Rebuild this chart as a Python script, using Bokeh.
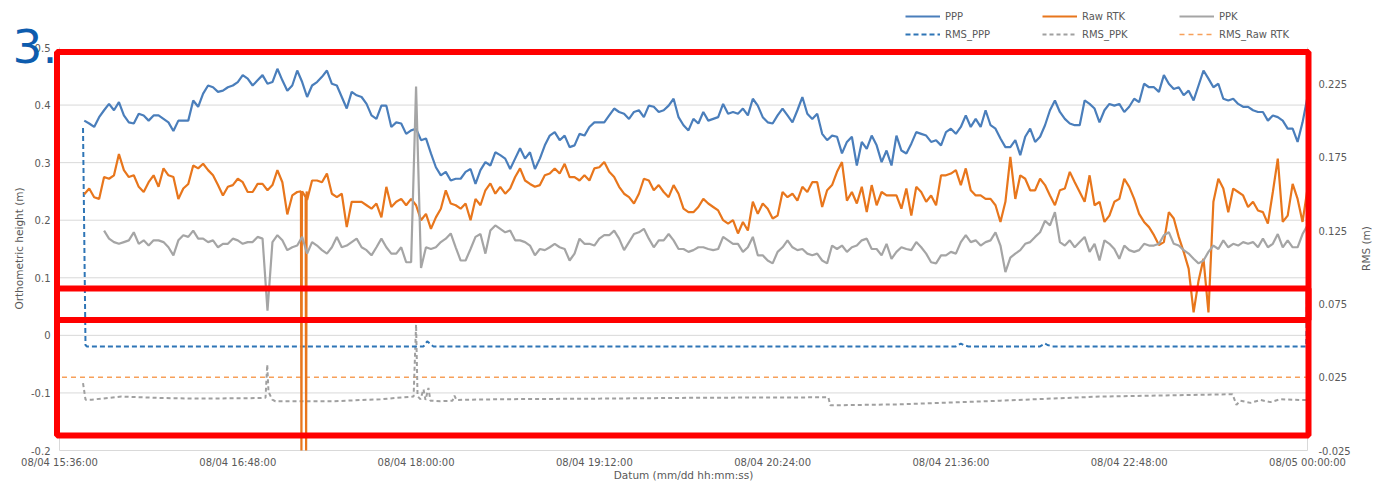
import math
import numpy as np
from bokeh.plotting import figure
from bokeh.models import Range1d, Legend, LegendItem, Label, BoxAnnotation
from bokeh.core.properties import value
from bokeh.embed import file_html
from bokeh.resources import INLINE

FONT = "DejaVu Sans"
TXT = "#595959"
GRID = "#d9d9d9"

# ---------------- axes / ticks ----------------
x_tick_minutes = [0, 72, 144, 216, 288, 360, 432, 504]   # minutes after 08/04 15:36
x_tick_labels = ["08/04 15:36:00", "08/04 16:48:00", "08/04 18:00:00", "08/04 19:12:00",
                 "08/04 20:24:00", "08/04 21:36:00", "08/04 22:48:00", "08/05 00:00:00"]
left_ticks = [-0.2, -0.1, 0.0, 0.1, 0.2, 0.3, 0.4, 0.5]
left_tick_labels = ["-0.2", "-0.1", "0", "0.1", "0.2", "0.3", "0.4", "0.5"]
right_ticks = [-0.025, 0.025, 0.075, 0.125, 0.175, 0.225]
right_tick_labels = ["-0.025", "0.025", "0.075", "0.125", "0.175", "0.225"]
X_MIN, X_MAX = 0, 504
Y_MIN, Y_MAX = -0.2, 0.5
RMS_MIN, RMS_MAX = -0.025, 0.25

# ---------------- data (orthometric height, m), sampled every 2 minutes ----------------
SAMPLE_STEP = 2
ppp_start = 10
ppp = [0.373, 0.368, 0.362, 0.379, 0.391, 0.402, 0.391, 0.405, 0.382, 0.370, 0.368, 0.385, 0.382,
       0.373, 0.382, 0.382, 0.376, 0.370, 0.355, 0.373, 0.373, 0.373, 0.408, 0.397, 0.420, 0.434,
       0.431, 0.423, 0.425, 0.431, 0.434, 0.440, 0.452, 0.446, 0.434, 0.443, 0.452, 0.437,
       0.440, 0.463, 0.443, 0.425, 0.434, 0.460, 0.440, 0.414, 0.434, 0.440, 0.449, 0.460, 0.437,
       0.434, 0.414, 0.394, 0.423, 0.417, 0.414, 0.402, 0.382, 0.376, 0.399, 0.399, 0.362, 0.370,
       0.368, 0.350, 0.356, 0.359, 0.339, 0.342, 0.316, 0.292, 0.278, 0.284, 0.269, 0.272, 0.272,
       0.284, 0.289, 0.263,
       0.287, 0.301, 0.295, 0.318, 0.313, 0.307, 0.289, 0.307, 0.325, 0.307, 0.318, 0.289, 0.307,
       0.330, 0.347, 0.353, 0.339, 0.347, 0.327, 0.330, 0.350, 0.347, 0.362, 0.370, 0.370, 0.370,
       0.382, 0.394, 0.388, 0.385, 0.376, 0.388, 0.391, 0.379, 0.399, 0.397, 0.388, 0.391, 0.399,
       0.411, 0.379,
       0.365, 0.356, 0.376, 0.368, 0.388, 0.373, 0.376, 0.379, 0.402, 0.385, 0.388, 0.385, 0.394,
       0.382, 0.411, 0.399, 0.379, 0.370, 0.368, 0.382, 0.394, 0.382, 0.370, 0.391, 0.414, 0.385,
       0.376, 0.385, 0.350, 0.339, 0.347, 0.345, 0.316, 0.336, 0.345, 0.295, 0.336, 0.324, 0.347,
       0.330, 0.301,
       0.321, 0.295, 0.347, 0.321, 0.316, 0.333, 0.353, 0.350, 0.347, 0.336, 0.339, 0.330, 0.353,
       0.359, 0.350, 0.362, 0.382, 0.362, 0.376, 0.362, 0.391, 0.365, 0.359, 0.342, 0.327, 0.327,
       0.339, 0.313, 0.345, 0.359, 0.336, 0.345, 0.365, 0.391, 0.408, 0.388, 0.376, 0.368, 0.365,
       0.365, 0.408, 0.402,
       0.394, 0.370, 0.391, 0.402, 0.399, 0.402, 0.388, 0.397, 0.411, 0.405, 0.437, 0.431, 0.431,
       0.423, 0.452, 0.437, 0.428, 0.431, 0.417, 0.425, 0.408, 0.434, 0.460, 0.446, 0.431, 0.437,
       0.411, 0.408, 0.411, 0.402, 0.397, 0.397, 0.391, 0.388, 0.388, 0.373, 0.382, 0.379, 0.373,
       0.359, 0.359, 0.336, 0.370, 0.414]

raw_rtk_start = 10
raw_rtk = [0.245, 0.255, 0.240, 0.237, 0.275, 0.272, 0.278, 0.315, 0.287, 0.275, 0.278, 0.258,
           0.249, 0.266, 0.278, 0.258, 0.290, 0.278, 0.275, 0.237, 0.255, 0.263, 0.295, 0.290,
           0.298, 0.287, 0.278, 0.261, 0.243, 0.258, 0.261, 0.272, 0.266, 0.249, 0.249, 0.263,
           0.263, 0.252,
           0.261, 0.287, 0.266, 0.210, 0.243, 0.249, 0.250, 0.235, 0.269, 0.269, 0.266, 0.281,
           0.246, 0.240, 0.246, 0.188, 0.232, 0.232, 0.232, 0.226, 0.220, 0.229, 0.205, 0.258,
           0.223, 0.232, 0.237, 0.226, 0.237, 0.226, 0.200, 0.211, 0.185, 0.205, 0.220, 0.252,
           0.229, 0.226, 0.220, 0.229, 0.200, 0.237,
           0.226, 0.252, 0.264, 0.246, 0.258, 0.246, 0.255, 0.275, 0.290, 0.269, 0.263, 0.258,
           0.261, 0.278, 0.281, 0.290, 0.281, 0.298, 0.275, 0.275, 0.269, 0.278, 0.269, 0.290,
           0.292, 0.301, 0.284, 0.275, 0.258, 0.246, 0.240, 0.229, 0.246, 0.272, 0.269, 0.252,
           0.261, 0.249, 0.240, 0.261, 0.246,
           0.220, 0.214, 0.214, 0.223, 0.237, 0.229, 0.223, 0.217, 0.200, 0.194, 0.200, 0.177,
           0.197, 0.182, 0.232, 0.211, 0.229, 0.220, 0.203, 0.208, 0.249, 0.240, 0.246, 0.234,
           0.258, 0.249, 0.266, 0.266, 0.223, 0.252, 0.261, 0.284, 0.301, 0.234, 0.249, 0.229,
           0.258, 0.214, 0.261, 0.226, 0.249,
           0.243, 0.243, 0.243, 0.220, 0.255, 0.208, 0.258, 0.249, 0.232, 0.243, 0.226, 0.278,
           0.278, 0.281, 0.287, 0.261, 0.290, 0.252, 0.243, 0.243, 0.237, 0.237, 0.226, 0.197,
           0.232, 0.310, 0.237, 0.278, 0.272, 0.252, 0.252, 0.272, 0.261, 0.243, 0.226, 0.252,
           0.255, 0.284, 0.266, 0.249, 0.232, 0.278,
           0.226, 0.232, 0.197, 0.208, 0.232, 0.237, 0.272, 0.258, 0.237, 0.211, 0.197, 0.188,
           0.174, 0.157, 0.162, 0.214, 0.203, 0.171, 0.145, 0.116, 0.040, 0.095, 0.133, 0.040,
           0.232, 0.272, 0.255, 0.214, 0.255, 0.249, 0.243, 0.223, 0.232, 0.217, 0.214, 0.194,
           0.249, 0.307, 0.197, 0.208, 0.263, 0.237, 0.197, 0.255]
# two short Raw RTK drop-outs that run off the bottom of the axis (clipped at -0.2)
raw_rtk_dropout_t = [97.5, 97.7, 97.9, 99.4, 99.6, 99.8]
raw_rtk_dropout = [0.250, -0.2, 0.245, 0.240, -0.2, 0.250]

ppk_start = 18
ppk = [0.182, 0.168, 0.162, 0.159, 0.162, 0.165, 0.179, 0.159, 0.165, 0.156, 0.165, 0.165, 0.162,
       0.153, 0.139, 0.165, 0.174, 0.171, 0.182, 0.168, 0.168, 0.162, 0.165, 0.153, 0.159, 0.159,
       0.168, 0.165, 0.159, 0.162, 0.162, 0.171, 0.168, 0.043,
       0.162, 0.174, 0.165, 0.148, 0.153, 0.156, 0.171, 0.142, 0.162, 0.156, 0.148, 0.142, 0.153,
       0.171, 0.153, 0.156, 0.162, 0.168, 0.153, 0.148, 0.139, 0.153, 0.168, 0.153, 0.142, 0.142,
       0.153, 0.127, 0.127, 0.432, 0.117, 0.153, 0.150, 0.153, 0.162, 0.168, 0.177, 0.153, 0.130,
       0.130, 0.150, 0.171,
       0.176, 0.142, 0.182, 0.191, 0.185, 0.179, 0.182, 0.165, 0.165, 0.162, 0.156, 0.139, 0.150,
       0.148, 0.153, 0.159, 0.153, 0.150, 0.130, 0.142, 0.168, 0.159, 0.159, 0.156, 0.168, 0.174,
       0.174, 0.182, 0.168, 0.148, 0.162, 0.176, 0.179, 0.185, 0.168, 0.153, 0.165, 0.165, 0.176,
       0.165, 0.150,
       0.150, 0.145, 0.148, 0.153, 0.153, 0.150, 0.148, 0.150, 0.171, 0.165, 0.159, 0.159, 0.145,
       0.153, 0.171, 0.139, 0.139, 0.130, 0.125, 0.145, 0.153, 0.165, 0.153, 0.148, 0.150, 0.142,
       0.139, 0.142, 0.130, 0.125, 0.156, 0.150, 0.156, 0.145, 0.153, 0.156, 0.165, 0.168, 0.150,
       0.150, 0.139,
       0.159, 0.133, 0.145, 0.153, 0.150, 0.148, 0.162, 0.153, 0.142, 0.127, 0.125, 0.139, 0.139,
       0.145, 0.142, 0.162, 0.174, 0.162, 0.165, 0.156, 0.162, 0.165, 0.179, 0.156, 0.110, 0.135,
       0.142, 0.148, 0.159, 0.162, 0.171, 0.179, 0.199, 0.191, 0.214, 0.162, 0.156, 0.165, 0.153,
       0.162, 0.171, 0.145,
       0.159, 0.130, 0.165, 0.159, 0.150, 0.133, 0.156, 0.148, 0.145, 0.148, 0.159, 0.156, 0.156,
       0.159, 0.174, 0.179, 0.159, 0.156, 0.148, 0.142, 0.133, 0.125, 0.130, 0.145, 0.156, 0.150,
       0.165, 0.153, 0.159, 0.156, 0.162, 0.159, 0.162, 0.153, 0.168, 0.153, 0.159, 0.176, 0.153,
       0.165, 0.153, 0.153, 0.176, 0.191]

# ---------------- RMS (m), right axis ----------------
rms_ppp_t = [9.5, 10.5, 11, 40, 100, 147, 148.5, 149.5, 151, 200, 260, 320, 362, 364, 365, 367,
             396, 398, 399, 401, 450, 503.5, 504]
rms_ppp = [0.195, 0.047, 0.046, 0.046, 0.046, 0.046, 0.0495, 0.048, 0.046, 0.046, 0.046, 0.046,
           0.046, 0.048, 0.047, 0.046, 0.046, 0.048, 0.047, 0.046, 0.046, 0.046, 0.106]

rms_ppk_t = [9.5, 10.5, 13, 25, 41, 57, 81, 83.2, 83.9, 84.4, 85.9, 87.2, 110.6, 129.6, 143, 144,
             144.6, 145.8, 147, 147.8, 149, 149.8, 153.8, 158.7, 159.5, 160.3, 178, 218.5, 258.8,
             310.5, 311.3, 339.6, 380, 420, 473.7, 475.3, 476.9, 481, 485, 489, 493, 501, 504]
rms_ppk = [0.021, 0.0097, 0.0097, 0.0118, 0.0108, 0.0104, 0.0108, 0.011, 0.0337, 0.015, 0.0097,
           0.0086, 0.0086, 0.010, 0.0118, 0.061, 0.012, 0.010, 0.0168, 0.0095, 0.0177, 0.009,
           0.0086, 0.009, 0.0125, 0.0095, 0.0100, 0.0104, 0.0110, 0.0113, 0.0058, 0.0065, 0.0090,
           0.0118, 0.0134, 0.0062, 0.009, 0.0075, 0.0095, 0.008, 0.010, 0.0095, 0.0095]

rms_rtk_t = [1, 126, 252, 378, 504]
rms_rtk = [0.025, 0.025, 0.025, 0.025, 0.025]

t_ppp = ppp_start + SAMPLE_STEP * np.arange(len(ppp))
t_ppk = ppk_start + SAMPLE_STEP * np.arange(len(ppk))
_rtk_pairs = sorted(list(zip(raw_rtk_start + SAMPLE_STEP * np.arange(len(raw_rtk)), raw_rtk))
                    + list(zip(raw_rtk_dropout_t, raw_rtk_dropout)))
t_rtk = [a for a, _ in _rtk_pairs]
v_rtk = [b for _, b in _rtk_pairs]

# ---------------- layout (pixels on the canvas) ----------------
W, H = 1380, 481
PL, PR, PT, PB = 59, 1307, 47, 450          # plot-area edges on the canvas
xs = (X_MAX - X_MIN) / (PR - PL)
ys = (Y_MAX - Y_MIN) / (PB - PT)
rs = (RMS_MAX - RMS_MIN) / (PB - PT)

def sx(cx):            # canvas x -> frame screen x
    return cx
def sy(cy):            # canvas y (from top) -> frame screen y (from bottom)
    return H - cy

p = figure(width=W, height=H,
           x_range=Range1d(X_MIN - PL * xs, X_MAX + (W - PR) * xs),
           y_range=Range1d(Y_MIN - (H - PB) * ys, Y_MAX + PT * ys),
           x_axis_location=None, y_axis_location=None,
           output_backend="svg", toolbar_location=None, title=None,
           min_border=0, min_border_left=0, min_border_right=0,
           min_border_top=0, min_border_bottom=0)
p.extra_y_ranges = {"rms": Range1d(RMS_MIN - (H - PB) * rs, RMS_MAX + PT * rs)}
p.outline_line_color = None
p.grid.visible = False
p.background_fill_color = "white"
p.border_fill_color = "white"

# gridlines and axis lines
gl = left_ticks[1:-1]
p.segment(x0=[X_MIN] * len(gl), y0=gl, x1=[X_MAX] * len(gl), y1=gl, line_color=GRID, line_width=1)
p.segment(x0=[X_MIN, X_MIN, X_MAX], y0=[Y_MIN, Y_MIN, Y_MIN], x1=[X_MAX, X_MIN, X_MAX],
          y1=[Y_MIN, Y_MAX, Y_MAX], line_color=GRID, line_width=1)

# tick labels
p.text(x=[X_MIN] * len(left_ticks), y=left_ticks, text=left_tick_labels, x_offset=-9,
       text_align="right", text_baseline="middle", text_font=value(FONT),
       text_font_size="10px", text_color=TXT)
p.text(x=[X_MAX] * len(right_ticks), y=right_ticks, text=right_tick_labels, x_offset=11,
       y_range_name="rms", text_align="left", text_baseline="middle", text_font=value(FONT),
       text_font_size="10px", text_color=TXT)
p.text(x=x_tick_minutes, y=[Y_MIN] * len(x_tick_minutes), text=x_tick_labels, y_offset=12,
       text_align="center", text_baseline="middle", text_font=value(FONT),
       text_font_size="10px", text_color=TXT)

# axis titles
p.add_layout(Label(x=sx(18), y=sy(248), text="Orthometric height (m)", angle=math.pi / 2,
                   x_units="screen", y_units="screen", text_align="center",
                   text_baseline="middle", text_font=FONT, text_font_size="10.5px",
                   text_color=TXT))
p.add_layout(Label(x=sx(1365), y=sy(248), text="RMS (m)", angle=math.pi / 2,
                   x_units="screen", y_units="screen", text_align="center",
                   text_baseline="middle", text_font=FONT, text_font_size="10.5px",
                   text_color=TXT))
p.add_layout(Label(x=sx(683), y=sy(474), text="Datum (mm/dd hh:mm:ss)",
                   x_units="screen", y_units="screen", text_align="center",
                   text_baseline="middle", text_font=FONT, text_font_size="10.5px",
                   text_color=TXT))

# RMS series (secondary axis)
r_rms_rtk = p.line(rms_rtk_t, rms_rtk, y_range_name="rms", line_color="#f7a05a",
                   line_width=1.6, line_dash="5 4")
r_rms_ppk = p.line(rms_ppk_t, rms_ppk, y_range_name="rms", line_color="#a0a0a0",
                   line_width=2, line_dash="4 3")
r_rms_ppp = p.line(rms_ppp_t, rms_ppp, y_range_name="rms", line_color="#2e75b6",
                   line_width=2, line_dash="5 3")

# height series
r_ppp = p.line(t_ppp, ppp, line_color="#4a7ebb", line_width=2.2)
r_rtk = p.line(t_rtk, v_rtk, line_color="#e8761c", line_width=2.2)
r_ppk = p.line(t_ppk, ppk, line_color="#a5a5a5", line_width=2.2)

# legends (two rows)
def make_legend(items, bottom_cy):
    return Legend(items=items, orientation="horizontal", location=(sx(905), sy(bottom_cy)),
                  border_line_color=None, background_fill_alpha=0, padding=0, margin=0,
                  spacing=2, glyph_width=35, glyph_height=12, label_standoff=5,
                  label_width=95, label_height=12, label_text_font=FONT,
                  label_text_font_size="10px", label_text_color=TXT)

p.add_layout(make_legend([LegendItem(label="PPP", renderers=[r_ppp]),
                          LegendItem(label="Raw RTK", renderers=[r_rtk]),
                          LegendItem(label="PPK", renderers=[r_ppk])], 22), "center")
p.add_layout(make_legend([LegendItem(label="RMS_PPP", renderers=[r_rms_ppp]),
                          LegendItem(label="RMS_PPK", renderers=[r_rms_ppk]),
                          LegendItem(label="RMS_Raw RTK", renderers=[r_rms_rtk])], 40), "center")

# "3." marker
p.add_layout(Label(x=sx(12), y=sy(45), x_units="screen", y_units="screen", text="3.",
                   text_font=FONT, text_font_size="47px", text_color="#0d5cae",
                   text_baseline="alphabetic"))

# red highlight rectangles (canvas pixel boxes: left, right, top, bottom)
for (l, r, t, b) in [(56.5, 1308, 51.5, 435), (56.5, 1308, 288, 319.5)]:
    p.add_layout(BoxAnnotation(left=sx(l), right=sx(r), top=sy(t), bottom=sy(b),
                               left_units="screen", right_units="screen",
                               top_units="screen", bottom_units="screen",
                               fill_color=None, fill_alpha=0, line_color="#ff0000",
                               line_width=6, line_alpha=1, level="overlay"))

open("out.html", "w").write(file_html(p, INLINE))
